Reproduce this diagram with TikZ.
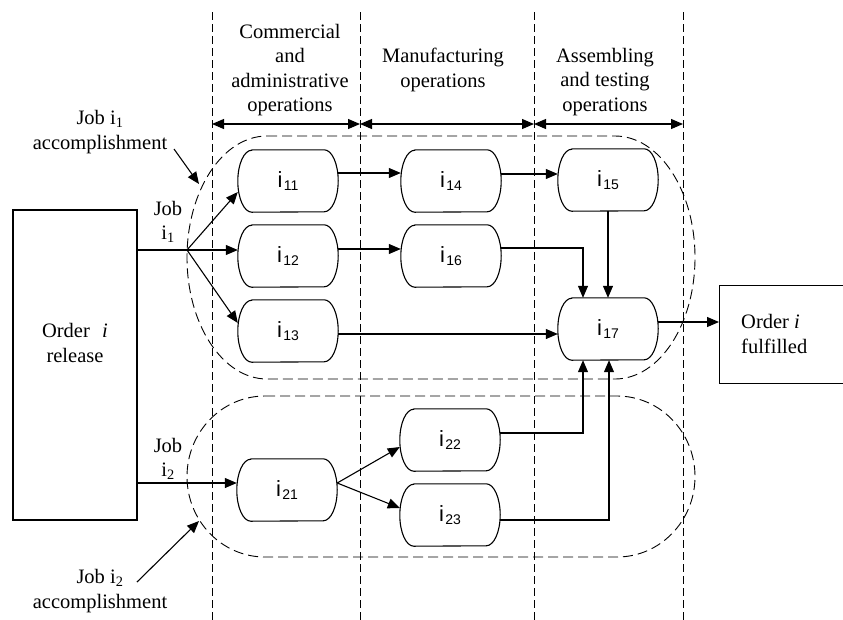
\documentclass[tikz,border=0pt]{standalone}
\usepackage{fontspec}
\setmainfont{Liberation Serif}
\newfontfamily\sansf{Liberation Sans}
\usetikzlibrary{arrows.meta,calc}
\newcommand{\tsk}[1]{{\sansf\fontsize{22}{24}\selectfont i\hspace{1.5pt}\raisebox{-2.5pt}{\fontsize{14}{16}\selectfont #1}}}
\tikzset{
  task/.style={minimum width=100pt,minimum height=62pt,inner sep=0pt,font=\sansf},
  lbl/.style={font=\fontsize{20.5}{24.5}\selectfont,align=center,inner sep=0pt},
  arr/.style={line width=1.1pt,-{Triangle[length=12pt,width=10pt]}},
  darr/.style={line width=1.1pt,{Triangle[length=12pt,width=10pt]}-{Triangle[length=12pt,width=10pt]}},
  ln/.style={line width=1.1pt},
  vdash/.style={line width=0.9pt,dash pattern=on 8pt off 4pt},
  rdash/.style={line width=0.9pt,dash pattern=on 10pt off 5pt},
  box/.style={draw,line width=1.1pt,inner sep=0pt}
}
\begin{document}
\begin{tikzpicture}[x=1pt,y=-1pt]
\useasboundingbox (0,0) rectangle (843,619);
\fill[white] (0,0) rectangle (843,619);
% column separators
\foreach \x [count=\k] in {212,360,534,683}{
  \coordinate (vt\k) at (\x,12);
  \coordinate (vb\k) at (\x,625);
  \coordinate (va\k) at (\x,124);
  \draw[vdash] (vt\k) -- (vb\k);
}
\draw[darr] (va1) -- (va2);
\draw[darr] (va2) -- (va3);
\draw[darr] (va3) -- (va4);
% headers
\node[lbl] (h1) at (290,70) {Commercial\\and\\administrative\\operations};
\node[lbl] (h2) at (443,70) {Manufacturing\\operations};
\node[lbl] (h3) at (605,82) {Assembling\\and testing\\operations};
% job regions
\draw[rdash] (267,136) -- (615,136) arc[start angle=90,end angle=-90,x radius=80pt,y radius=121.5pt]
  -- (267,379) arc[start angle=270,end angle=90,x radius=80pt,y radius=121.5pt] -- cycle;
\draw[rdash] (265,396) -- (617,396) arc[start angle=90,end angle=-90,x radius=78pt,y radius=80.5pt]
  -- (265,557) arc[start angle=270,end angle=90,x radius=78pt,y radius=80.5pt] -- cycle;
% task nodes
\node[task] (i11) at (288,181) {\tsk{11}};
\node[task] (i12) at (288,256) {\tsk{12}};
\node[task] (i13) at (288,331) {\tsk{13}};
\node[task] (i14) at (451,181) {\tsk{14}};
\node[task] (i16) at (451,256) {\tsk{16}};
\node[task] (i15) at (608,180) {\tsk{15}};
\node[task] (i17) at (608,329) {\tsk{17}};
\node[task] (i21) at (287,490) {\tsk{21}};
\node[task] (i22) at (450,440) {\tsk{22}};
\node[task] (i23) at (450,515) {\tsk{23}};
\foreach \n in {i11,i12,i13,i14,i15,i16,i17,i21,i22,i23}{
  \draw[ln] ([xshift=14pt]\n.north west) -- ([xshift=-14pt]\n.north east)
    arc[start angle=90,end angle=-90,x radius=14pt,y radius=31pt]
    -- ([xshift=14pt]\n.south west)
    arc[start angle=270,end angle=90,x radius=14pt,y radius=31pt] -- cycle;
}
% boxes
\node[box,minimum width=124pt,minimum height=310pt] (rel) at (75,365) {};
\node[lbl] (reltxt) at (75,343) {Order\hspace{0.6em}\textit{i}\\release};
\node[box,minimum width=160pt,minimum height=98pt,anchor=north west] (out) at (719,285) {};
\node[lbl,align=left,anchor=west] (outtxt) at (741,334) {Order \textit{i}\\fulfilled};
% job labels
\node[lbl] (job1) at (168,222) {Job\\i\textsubscript{1}};
\node[lbl] (job2) at (168,459) {Job\\i\textsubscript{2}};
\node[lbl] (acc1) at (100,132) {Job i\textsubscript{1}\\accomplishment};
\node[lbl] (acc2) at (100,591) {Job i\textsubscript{2}\\accomplishment};
\coordinate (acc1s) at (174,149);
\coordinate (acc1e) at (199,184);
\coordinate (acc2s) at (137,582);
\coordinate (acc2e) at (199,521);
\draw[arr] (acc1s) -- (acc1e);
\draw[arr] (acc2s) -- (acc2e);
% connectors job 1
\coordinate (fork1) at (187,250);
\draw[ln] (fork1 -| rel.east) -- (fork1);
\draw[arr] (fork1) -- ([yshift=-11pt]i11.west);
\draw[arr] (fork1) -- (fork1 -| i12.west);
\draw[arr] (fork1) -- ([yshift=8pt]i13.west);
\draw[arr] ([yshift=8pt]i11.east) -- ([yshift=8pt]i14.west);
\draw[arr] ([yshift=7pt]i14.east) -- ([yshift=6pt]i15.west);
\draw[arr] ([yshift=7pt]i12.east) -- ([yshift=7pt]i16.west);
\draw[arr] ([yshift=8pt]i16.east) -| ([xshift=-25pt]i17.north);
\draw[arr] (i15.south) -- (i17.north);
\draw[arr] ([yshift=-3pt]i13.east) -- ([yshift=-5pt]i17.west);
\coordinate (o17) at ([yshift=7pt]i17.east);
\draw[arr] (o17) -- (o17 -| out.west);
% connectors job 2
\coordinate (j2) at ([yshift=7pt]i21.west);
\draw[arr] (j2 -| rel.east) -- (j2);
\draw[arr] ([yshift=7pt]i21.east) -- ([yshift=-7pt]i22.west);
\draw[arr] ([yshift=7pt]i21.east) -- ([yshift=7pt]i23.west);
\draw[arr] ([yshift=7pt]i22.east) -| ([xshift=-25pt]i17.south);
\draw[arr] ([yshift=-5pt]i23.east) -| ([xshift=1pt]i17.south);
\end{tikzpicture}
\end{document}
